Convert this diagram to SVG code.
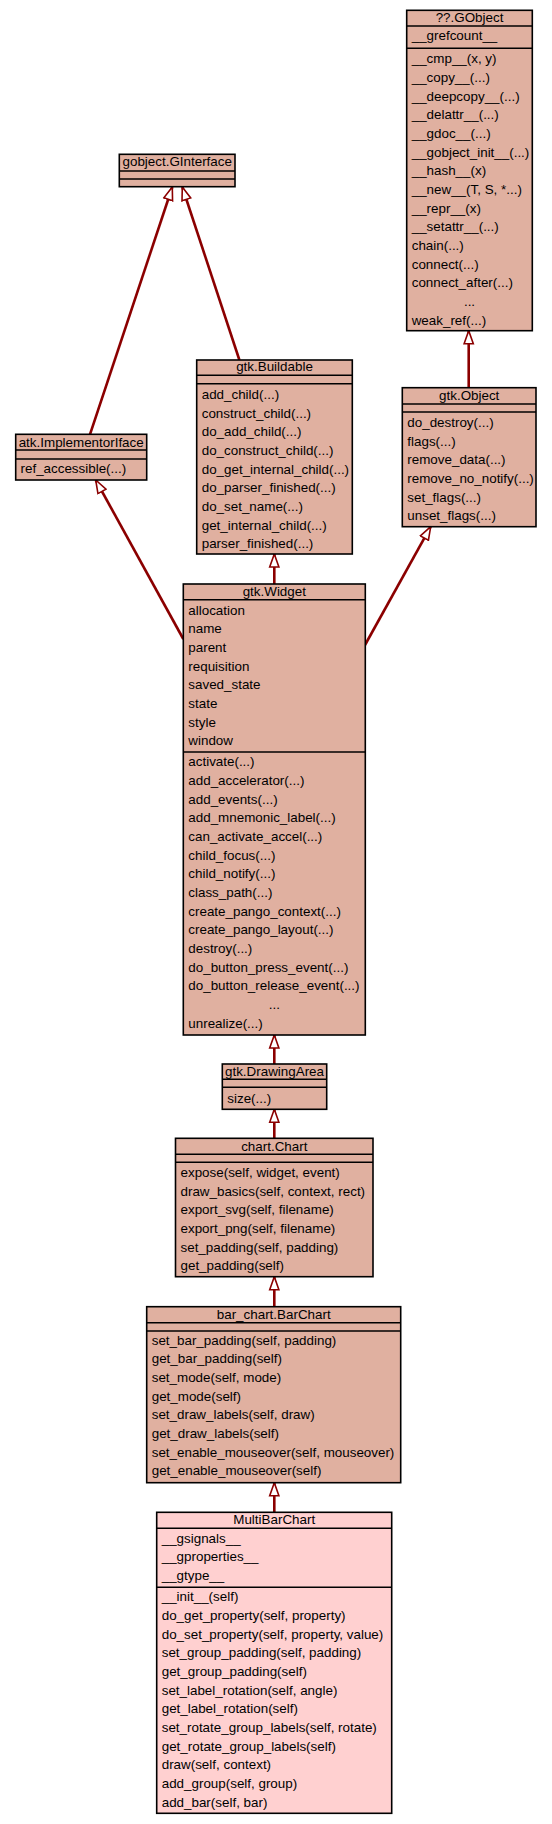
<svg xmlns="http://www.w3.org/2000/svg" width="552" height="1824" viewBox="0 0 552 1824">
<style>
.box{fill:#e0b0a0;stroke:#000;stroke-width:1.6}
.mb{fill:#ffd0d0;stroke:#000;stroke-width:1.6}
.sep{stroke:#000;stroke-width:1.6}
text{font-family:"Liberation Sans",Arial,sans-serif;font-size:13.4px;fill:#000}
.c{text-anchor:middle}
.e{stroke:#8b0000;stroke-width:2.6;fill:none;marker-end:url(#tri)}
</style>
<defs>
<marker id="tri" markerUnits="userSpaceOnUse" viewBox="-1 -6 16 12" refX="13" refY="0" markerWidth="16" markerHeight="12" orient="auto">
<path d="M13,0 L0,-4.6 L0,4.6 Z" fill="#fff" stroke="#8b0000" stroke-width="1.6"/>
</marker>
</defs>
<rect width="552" height="1824" fill="#fff"/>
<g id="connectors">
<line class="e" x1="90" y1="434.3" x2="172.3" y2="187"/>
<line class="e" x1="239.4" y1="360" x2="182.3" y2="187"/>
<line class="e" x1="468.7" y1="387.7" x2="468.7" y2="330.7"/>
<line class="e" x1="183.3" y1="639" x2="95.7" y2="480"/>
<line class="e" x1="274.3" y1="584" x2="274.3" y2="554"/>
<line class="e" x1="365" y1="645" x2="430.7" y2="526.7"/>
<line class="e" x1="274.3" y1="1064" x2="274.3" y2="1035"/>
<line class="e" x1="274.3" y1="1138.3" x2="274.3" y2="1109.3"/>
<line class="e" x1="274.3" y1="1306.7" x2="274.3" y2="1276.7"/>
<line class="e" x1="274.3" y1="1512.3" x2="274.3" y2="1482.7"/>
</g>
<g id="GObject">
<rect class="box" x="406.7" y="10.3" width="125.6" height="320.4"/>
<line class="sep" x1="406.7" y1="26" x2="532.3" y2="26"/>
<line class="sep" x1="406.7" y1="48.3" x2="532.3" y2="48.3"/>
<text class="c" x="469.5" y="22">??.GObject</text>
<text x="411.7" y="39.7">__grefcount__</text>
<text x="411.7" y="63.4">__cmp__(x, y)</text>
<text x="411.7" y="82.1">__copy__(...)</text>
<text x="411.7" y="100.7">__deepcopy__(...)</text>
<text x="411.7" y="119.4">__delattr__(...)</text>
<text x="411.7" y="138.1">__gdoc__(...)</text>
<text x="411.7" y="156.8">__gobject_init__(...)</text>
<text x="411.7" y="175.4">__hash__(x)</text>
<text x="411.7" y="194.1">__new__(T, S, *...)</text>
<text x="411.7" y="212.8">__repr__(x)</text>
<text x="411.7" y="231.4">__setattr__(...)</text>
<text x="411.7" y="250.1">chain(...)</text>
<text x="411.7" y="268.8">connect(...)</text>
<text x="411.7" y="287.4">connect_after(...)</text>
<text class="c" x="469.5" y="306.1">...</text>
<text x="411.7" y="324.8">weak_ref(...)</text>
</g>
<g id="GInterface">
<rect class="box" x="119.3" y="154.3" width="115.7" height="32.4"/>
<line class="sep" x1="119.3" y1="171" x2="235" y2="171"/>
<line class="sep" x1="119.3" y1="179" x2="235" y2="179"/>
<text class="c" x="177.2" y="166.4">gobject.GInterface</text>
</g>
<g id="ImplementorIface">
<rect class="box" x="15.7" y="434.3" width="131" height="45.7"/>
<line class="sep" x1="15.7" y1="450" x2="146.7" y2="450"/>
<line class="sep" x1="15.7" y1="459" x2="146.7" y2="459"/>
<text class="c" x="81.2" y="447">atk.ImplementorIface</text>
<text x="20.5" y="473">ref_accessible(...)</text>
</g>
<g id="Buildable">
<rect class="box" x="196.7" y="360" width="155.6" height="194"/>
<line class="sep" x1="196.7" y1="375.3" x2="352.3" y2="375.3"/>
<line class="sep" x1="196.7" y1="383.7" x2="352.3" y2="383.7"/>
<text class="c" x="274.5" y="371.4">gtk.Buildable</text>
<text x="201.7" y="399">add_child(...)</text>
<text x="201.7" y="417.7">construct_child(...)</text>
<text x="201.7" y="436.3">do_add_child(...)</text>
<text x="201.7" y="455">do_construct_child(...)</text>
<text x="201.7" y="473.7">do_get_internal_child(...)</text>
<text x="201.7" y="492.4">do_parser_finished(...)</text>
<text x="201.7" y="511">do_set_name(...)</text>
<text x="201.7" y="529.7">get_internal_child(...)</text>
<text x="201.7" y="548.4">parser_finished(...)</text>
</g>
<g id="GtkObject">
<rect class="box" x="402.3" y="387.7" width="133.7" height="139"/>
<line class="sep" x1="402.3" y1="404" x2="536" y2="404"/>
<line class="sep" x1="402.3" y1="412" x2="536" y2="412"/>
<text class="c" x="469.2" y="399.7">gtk.Object</text>
<text x="407.3" y="427">do_destroy(...)</text>
<text x="407.3" y="445.7">flags(...)</text>
<text x="407.3" y="464.3">remove_data(...)</text>
<text x="407.3" y="483">remove_no_notify(...)</text>
<text x="407.3" y="501.7">set_flags(...)</text>
<text x="407.3" y="520.4">unset_flags(...)</text>
</g>
<g id="Widget">
<rect class="box" x="183.3" y="584" width="182" height="451"/>
<line class="sep" x1="183.3" y1="599.7" x2="365.3" y2="599.7"/>
<line class="sep" x1="183.3" y1="752" x2="365.3" y2="752"/>
<text class="c" x="274.3" y="595.5">gtk.Widget</text>
<text x="188.3" y="614.5">allocation</text>
<text x="188.3" y="633.2">name</text>
<text x="188.3" y="651.8">parent</text>
<text x="188.3" y="670.5">requisition</text>
<text x="188.3" y="689.2">saved_state</text>
<text x="188.3" y="707.9">state</text>
<text x="188.3" y="726.5">style</text>
<text x="188.3" y="745.2">window</text>
<text x="188.3" y="766.4">activate(...)</text>
<text x="188.3" y="785.1">add_accelerator(...)</text>
<text x="188.3" y="803.7">add_events(...)</text>
<text x="188.3" y="822.4">add_mnemonic_label(...)</text>
<text x="188.3" y="841.1">can_activate_accel(...)</text>
<text x="188.3" y="859.8">child_focus(...)</text>
<text x="188.3" y="878.4">child_notify(...)</text>
<text x="188.3" y="897.1">class_path(...)</text>
<text x="188.3" y="915.8">create_pango_context(...)</text>
<text x="188.3" y="934.4">create_pango_layout(...)</text>
<text x="188.3" y="953.1">destroy(...)</text>
<text x="188.3" y="971.8">do_button_press_event(...)</text>
<text x="188.3" y="990.4">do_button_release_event(...)</text>
<text class="c" x="274.3" y="1009.1">...</text>
<text x="188.3" y="1027.8">unrealize(...)</text>
</g>
<g id="DrawingArea">
<rect class="box" x="222.3" y="1064" width="104.4" height="45.3"/>
<line class="sep" x1="222.3" y1="1079.3" x2="326.7" y2="1079.3"/>
<line class="sep" x1="222.3" y1="1087.3" x2="326.7" y2="1087.3"/>
<text class="c" x="274.5" y="1075.7">gtk.DrawingArea</text>
<text x="227.3" y="1103">size(...)</text>
</g>
<g id="Chart">
<rect class="box" x="175.5" y="1138.3" width="197.5" height="138.4"/>
<line class="sep" x1="175.5" y1="1154.3" x2="373" y2="1154.3"/>
<line class="sep" x1="175.5" y1="1162.3" x2="373" y2="1162.3"/>
<text class="c" x="274.3" y="1150.7">chart.Chart</text>
<text x="180.5" y="1177">expose(self, widget, event)</text>
<text x="180.5" y="1195.7">draw_basics(self, context, rect)</text>
<text x="180.5" y="1214.3">export_svg(self, filename)</text>
<text x="180.5" y="1233">export_png(self, filename)</text>
<text x="180.5" y="1251.7">set_padding(self, padding)</text>
<text x="180.5" y="1270.3">get_padding(self)</text>
</g>
<g id="BarChart">
<rect class="box" x="146.7" y="1306.7" width="254" height="176"/>
<line class="sep" x1="146.7" y1="1322.7" x2="400.7" y2="1322.7"/>
<line class="sep" x1="146.7" y1="1331" x2="400.7" y2="1331"/>
<text class="c" x="273.7" y="1318.7">bar_chart.BarChart</text>
<text x="151.7" y="1344.7">set_bar_padding(self, padding)</text>
<text x="151.7" y="1363.4">get_bar_padding(self)</text>
<text x="151.7" y="1382">set_mode(self, mode)</text>
<text x="151.7" y="1400.7">get_mode(self)</text>
<text x="151.7" y="1419.4">set_draw_labels(self, draw)</text>
<text x="151.7" y="1438">get_draw_labels(self)</text>
<text x="151.7" y="1456.7">set_enable_mouseover(self, mouseover)</text>
<text x="151.7" y="1475.4">get_enable_mouseover(self)</text>
</g>
<g id="MultiBarChart">
<rect class="mb" x="156.7" y="1512.3" width="235" height="301"/>
<line class="sep" x1="156.7" y1="1528.3" x2="391.7" y2="1528.3"/>
<line class="sep" x1="156.7" y1="1587.3" x2="391.7" y2="1587.3"/>
<text class="c" x="274.2" y="1523.7">MultiBarChart</text>
<text x="161.7" y="1542.7">__gsignals__</text>
<text x="161.7" y="1561.4">__gproperties__</text>
<text x="161.7" y="1580">__gtype__</text>
<text x="161.7" y="1601.4">__init__(self)</text>
<text x="161.7" y="1620.1">do_get_property(self, property)</text>
<text x="161.7" y="1638.7">do_set_property(self, property, value)</text>
<text x="161.7" y="1657.4">set_group_padding(self, padding)</text>
<text x="161.7" y="1676.1">get_group_padding(self)</text>
<text x="161.7" y="1694.7">set_label_rotation(self, angle)</text>
<text x="161.7" y="1713.4">get_label_rotation(self)</text>
<text x="161.7" y="1732.1">set_rotate_group_labels(self, rotate)</text>
<text x="161.7" y="1750.8">get_rotate_group_labels(self)</text>
<text x="161.7" y="1769.4">draw(self, context)</text>
<text x="161.7" y="1788.1">add_group(self, group)</text>
<text x="161.7" y="1806.8">add_bar(self, bar)</text>
</g>
</svg>
